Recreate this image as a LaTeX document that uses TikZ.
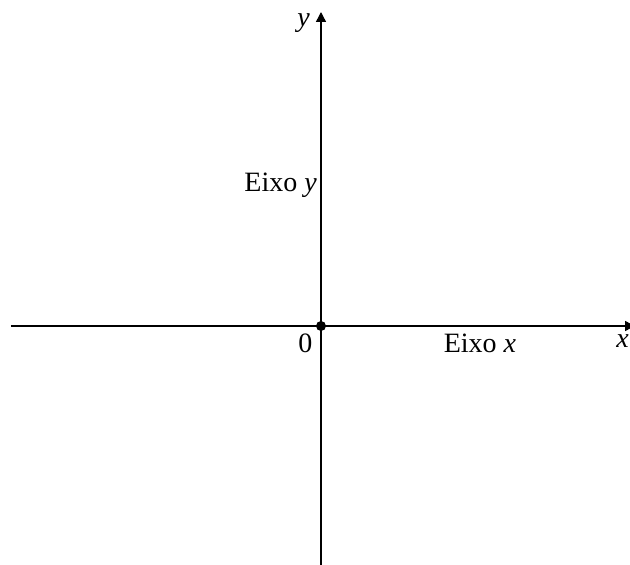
\documentclass[tikz,border=0pt]{standalone}
\usepackage{fontspec}
\setmainfont{Liberation Serif}
\usetikzlibrary{positioning,arrows.meta}

\begin{document}
\begin{tikzpicture}[
    x=1pt, y=1pt,
    font=\fontsize{28}{32}\selectfont,
    axis/.style={line width=1.4pt, -{Triangle[length=10pt, width=10pt]}},
    lbl/.style={inner sep=0pt},
    dot/.style={circle, fill=black, inner sep=0pt, minimum size=10pt}
]
\useasboundingbox (-321,-239) rectangle (309,326);
\clip (-321,-239) rectangle (309,326);

\coordinate (xmin) at (-310,0);
\coordinate (xmax) at (314,0);
\coordinate (ymin) at (0,-245);
\coordinate (ymax) at (0,314);

\draw[axis] (xmin) -- (xmax);
\draw[axis] (ymin) -- (ymax);
\node[dot] (origin) at (0,0) {};

\node[lbl, anchor=base east] (ylabel) at (-11,299) {\textit{y}};
\node[lbl, anchor=base east] (yaxis) at (-4,134) {Eixo \textit{y}};
\node[lbl, anchor=base] (zero) at (-15.5,-27) {0};
\node[lbl, anchor=base] (xaxis) at (159,-27) {Eixo \textit{x}};
\node[lbl, anchor=base east] (xlabel) at (308,-22) {\textit{x}};
\end{tikzpicture}
\end{document}
